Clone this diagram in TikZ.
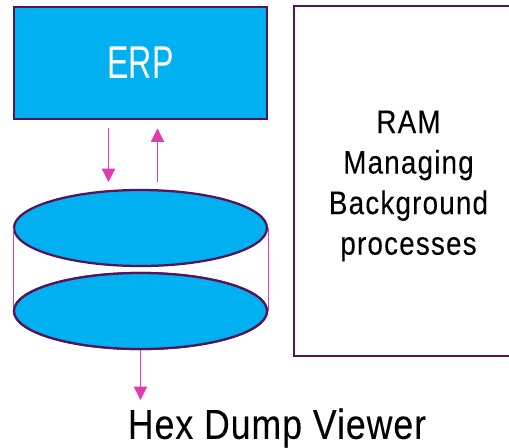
\documentclass[tikz,border=0pt]{standalone}
\usepackage{fontspec}
\setmainfont[FakeStretch=0.85]{Liberation Sans}
\newfontfamily\erpfont[FakeStretch=0.7]{Liberation Sans}
\newfontfamily\ramfont[FakeStretch=0.85,LetterSpace=3.7,FakeBold=0.15]{Liberation Sans}
\newfontfamily\hexfont[FakeStretch=0.85,LetterSpace=2.4,FakeBold=0.15]{Liberation Sans}
\usetikzlibrary{arrows.meta,shapes.geometric}
\definecolor{edgeC}{HTML}{55145A}
\definecolor{fillC}{HTML}{00B0F0}
\definecolor{arrC}{HTML}{DD3DB0}
\tikzset{x=0.75pt,y=-0.75pt,
  boxst/.style={draw=edgeC,line width=1.7pt,inner sep=0pt},
  disk/.style={ellipse,draw=edgeC,fill=fillC,line width=1.7pt,minimum width=189.75pt,minimum height=57pt,inner sep=0pt},
  flow/.style={draw=arrC,line width=0.8pt,-{Triangle[length=10pt,width=10pt]}},
  thin link/.style={draw=arrC,line width=0.5pt}}
\begin{document}
\begin{tikzpicture}
\useasboundingbox (0,0) rectangle (509,447);
\node[boxst,fill=fillC,minimum width=189.75pt,minimum height=84pt] (erp) at (140.5,63) {};
\node[text=white,font=\erpfont\fontsize{34.5}{36}\selectfont] (erplabel) at (140.5,63) {ERP};
\node[boxst,minimum width=162pt,minimum height=262pt] (ram) at (402,181) {};
\node[align=center,font=\ramfont\fontsize{24.5}{30.4}\selectfont] (ramlabel) at (408.5,186) {RAM\\Managing\\Background\\processes};
\node[disk] (d1) at (140.5,228) {};
\node[disk] (d2) at (140.5,311) {};
\draw[thin link] (d1.west) -- (d2.west);
\draw[thin link] (d1.east) -- (d2.east);
\node[disk] at (140.5,311) {};
\coordinate (a1s) at (108.5,128);
\coordinate (a1e) at (108.5,182);
\coordinate (a2s) at (157.5,182);
\coordinate (a2e) at (157.5,128.5);
\coordinate (a3e) at (140.5,400);
\draw[flow] (a1s) -- (a1e);
\draw[flow] (a2s) -- (a2e);
\draw[flow] (d2.south) -- (a3e);
\node[font=\hexfont\fontsize{31.4}{34}\selectfont] (hex) at (277,428) {Hex Dump Viewer};
\end{tikzpicture}
\end{document}
